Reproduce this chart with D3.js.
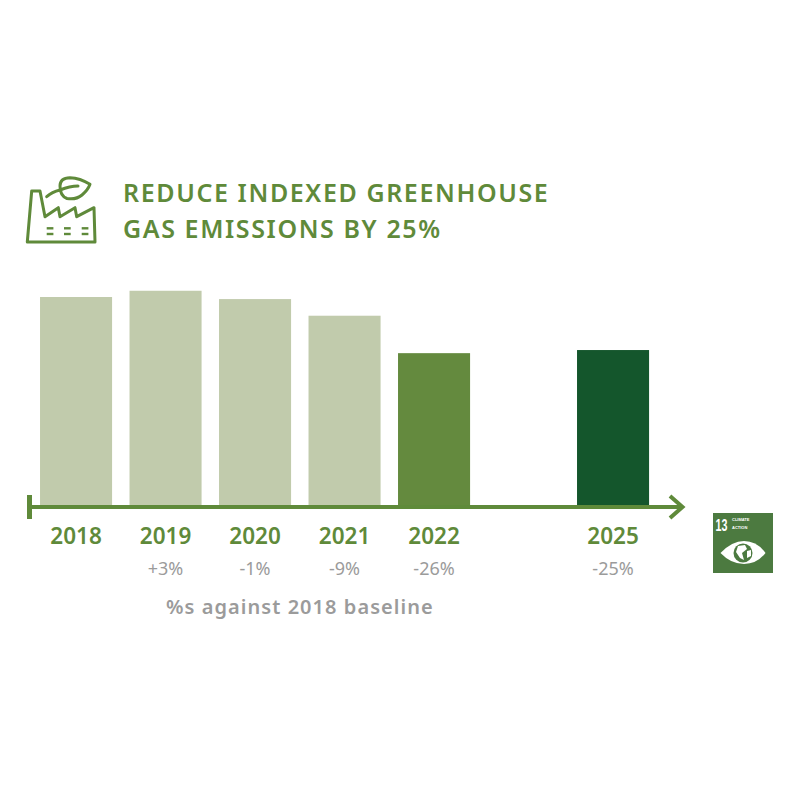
<!DOCTYPE html>
<html><head><meta charset="utf-8"><style>html,body{margin:0;background:#fff}svg{display:block}</style>
<script src="https://cdn.jsdelivr.net/npm/d3@7/dist/d3.min.js"></script></head><body><svg id="c" width="800" height="800"></svg>
<script>
const titleLines = ["REDUCE INDEXED GREENHOUSE", "GAS EMISSIONS BY 25%"];
const years = ["2018","2019","2020","2021","2022","2025"];
const slots = ["2018","2019","2020","2021","2022","gap","2025"];
const indexValues = [100,103,99,91,73,74.5];
const changeLabels = ["","+3%","-1%","-9%","-26%","-25%"];
const barColors = ["#c1cbac","#c1cbac","#c1cbac","#c1cbac","#648a3e","#14562c"];
const note = "%s against 2018 baseline";

const green="#5f8a3a", grey="#9b9b9b", font="'Noto Sans'";
const svg=d3.select("#c");
const x=d3.scaleBand().domain(slots).range([31.3,657.8]).paddingInner(0.195).paddingOuter(0.0975);
const y=d3.scaleLinear().domain([0,100]).range([505,297]);

svg.append("g").selectAll("rect").data(years).join("rect")
 .attr("x",d=>x(d)).attr("width",x.bandwidth())
 .attr("y",(d,i)=>y(indexValues[i])).attr("height",(d,i)=>y(0)-y(indexValues[i]))
 .attr("fill",(d,i)=>barColors[i]);

const ax=svg.append("g").attr("fill","none").attr("stroke",green).attr("stroke-width",4);
ax.append("line").attr("x1",27).attr("x2",682).attr("y1",507).attr("y2",507);
ax.append("line").attr("x1",29.5).attr("x2",29.5).attr("y1",495).attr("y2",519).attr("stroke-width",5);
ax.append("path").attr("d","M670 496 L682.5 507 L670 518").attr("stroke-width",4);

const cx=d=>x(d)+x.bandwidth()/2;
svg.append("g").selectAll("text").data(years).join("text")
 .attr("x",cx).attr("y",544).attr("text-anchor","middle")
 .attr("font-family",font).attr("font-weight",600).attr("font-size",22.5).attr("fill",green).text(d=>d);
svg.append("g").selectAll("text").data(years).join("text")
 .attr("x",cx).attr("y",574.5).attr("text-anchor","middle")
 .attr("font-family",font).attr("font-size",18).attr("fill",grey).text((d,i)=>changeLabels[i]);
svg.append("text").attr("x",166).attr("y",614).attr("font-family",font).attr("font-weight",600)
 .attr("font-size",20).attr("letter-spacing",1.05).attr("fill",grey).text(note);

svg.append("g").selectAll("text").data(titleLines).join("text")
 .attr("x",123).attr("y",(d,i)=>202+i*35.5)
 .attr("font-family",font).attr("font-weight",600).attr("font-size",25).attr("letter-spacing",1.6)
 .attr("fill",green).text(d=>d);

const ic=svg.append("g").attr("fill","none").attr("stroke",green).attr("stroke-width",3).attr("stroke-linejoin","round").attr("stroke-linecap","round");
ic.append("path").attr("d","M27.3 242 L31.7 191 L40 191 L45 216.7 L58.3 207.7 L60 216.7 L75 207.7 L76.7 216.7 L94 207.7 L95 242 Z");
ic.append("path").attr("d","M46.7 196.7 Q52 192 60 190 Q70 186 78 186");
ic.append("path").attr("d","M90 184.3 Q80 178 70 177.7 Q60 178 60 186 Q60 196 67 198.5 Q76 200 82 195 Q88 190 90 184.3 Z");
const dash=ic.append("g").attr("stroke-width",2.4).attr("stroke-linecap","butt");
[46.7,64,81.7].forEach(px=>{[228.3,234].forEach(py=>{dash.append("line").attr("x1",px).attr("x2",px+6.7).attr("y1",py).attr("y2",py);});});

const b=svg.append("g");
b.append("rect").attr("x",713).attr("y",513).attr("width",60).attr("height",60).attr("fill","#4c7a40");
b.append("text").attr("transform","translate(715.5,531) scale(0.63,1)").attr("font-family","'Liberation Sans'").attr("font-weight",700).attr("font-size",17).attr("fill","#fff").text("13");
b.append("text").attr("x",732).attr("y",521).attr("font-family","'Liberation Sans'").attr("font-weight",700).attr("font-size",4).attr("fill","#fff").text("CLIMATE");
b.append("text").attr("x",732).attr("y",529).attr("font-family","'Liberation Sans'").attr("font-weight",700).attr("font-size",4).attr("fill","#fff").text("ACTION");
b.append("path").attr("d","M720.5 553 Q732 541 744 541 Q757 541 765.5 553 Q757 564 744 564 Q731 564 720.5 553 Z").attr("fill","#fff");
b.append("circle").attr("cx",743).attr("cy",553).attr("r",9.5).attr("fill","#4c7a40");
b.append("path").attr("d","M738 546 L745 545 L747 549 L742 553 L744 560 L740 558 L736 552 Z M747 551 L751 550 L751 556 L747 558 Z").attr("fill","#fff");
</script></body></html>
